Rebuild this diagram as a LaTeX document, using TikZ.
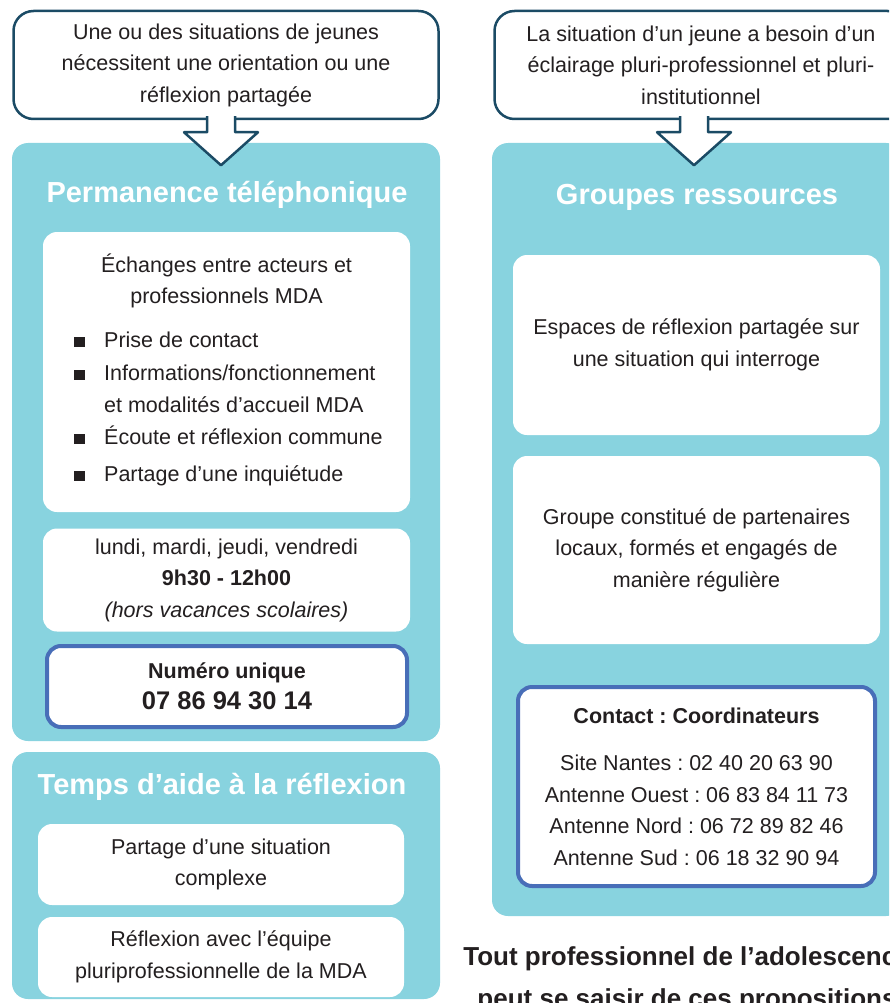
\documentclass[tikz,border=0pt]{standalone}
\usepackage{fontspec}
\setmainfont{Liberation Sans}
\usetikzlibrary{positioning}
\definecolor{mdacyan}{RGB}{136,211,223}
\definecolor{mdabord}{RGB}{27,75,101}
\definecolor{mdableu}{RGB}{72,110,184}
\definecolor{mdatexte}{RGB}{35,31,32}
\newcommand{\corps}{\fontsize{21.5}{31.5}\selectfont}
\newcommand{\puce}{\rule{11pt}{10pt}}
\frenchspacing

\begin{document}
\begin{tikzpicture}[x=1pt,y=-1pt,
    panneau/.style={fill=mdacyan,rounded corners=16pt,inner sep=0pt},
    boite/.style={fill=white,rounded corners=14pt,minimum width=367pt,align=center,text=mdatexte,font=\corps},
    cadre/.style={draw=mdableu,line width=4pt,fill=white,rounded corners=14pt,align=center,text=mdatexte,font=\corps},
    situation/.style={draw=mdabord,line width=2.5pt,fill=white,rounded corners=20pt,minimum height=108pt,align=center,text=mdatexte,font=\corps},
    titre/.style={text=white,font=\fontsize{29}{34}\selectfont\bfseries},
    texte/.style={text=mdatexte,align=center,font=\corps},
    fleche/.style={draw=mdabord,line width=2.5pt,fill=white,line join=round}]
  \useasboundingbox (0,0) rectangle (889,1003);
  \clip (0,0) rectangle (889,1003);

  % colonne gauche
  \node[panneau,minimum width=428pt,minimum height=598pt] (panPerm) at (226,442) {};
  \node[titre] (titrePerm) at (227,195) {Permanence téléphonique};
  \node[boite,minimum height=280pt] (echanges) at (226.5,372) {};
  \node[texte] (echangesTitre) at (226.5,281) {Échanges entre acteurs et\\professionnels MDA};
  \node[texte,align=left,anchor=west,inner sep=0pt] (echangesListe) at (74,408) {%
    \begin{tabular}{@{}p{30pt}@{}l@{}}
      \puce & Prise de contact\\[1.5pt]
      \puce & Informations/fonctionnement\\[0.5pt]
            & et modalités d’accueil MDA\\[0.5pt]
      \puce & Écoute et réflexion commune\\[5.5pt]
      \puce & Partage d’une inquiétude
    \end{tabular}};
  \node[boite,minimum height=103pt] (horaires) at (226.5,580) {lundi, mardi, jeudi, vendredi\\\textbf{9h30 - 12h00}\\\textit{(hors vacances scolaires)}};
  \node[cadre,minimum width=360pt,minimum height=81pt] (numero) at (227,686.5) {\textbf{Numéro unique}\\{\fontsize{25.5}{30}\selectfont\bfseries 07 86 94 30 14}};

  \node[panneau,minimum width=428pt,minimum height=247pt] (panTemps) at (226,875.5) {};
  \node[titre] (titreTemps) at (222,787) {Temps d’aide à la réflexion};
  \node[boite,minimum width=366pt,minimum height=81pt] (partage) at (221,864.5) {Partage d’une situation\\complexe};
  \node[boite,minimum width=366pt,minimum height=80pt] (reflexion) at (221,957) {Réflexion avec l’équipe\\pluriprofessionnelle de la MDA};

  % colonne droite
  \node[panneau,minimum width=410pt,minimum height=773pt] (panGroupes) at (697,529.5) {};
  \node[titre] (titreGroupes) at (697,197) {Groupes ressources};
  \node[boite,minimum height=180pt] (espaces) at (696.5,345) {Espaces de réflexion partagée sur\\une situation qui interroge};
  \node[boite,minimum height=188pt] (partenaires) at (696.5,550) {Groupe constitué de partenaires\\locaux, formés et engagés de\\manière régulière};
  \node[cadre,minimum width=357pt,minimum height=199pt] (contact) at (696.5,786.5) {\textbf{Contact : Coordinateurs}\\[16pt]Site Nantes : 02 40 20 63 90\\Antenne Ouest : 06 83 84 11 73\\Antenne Nord : 06 72 89 82 46\\Antenne Sud : 06 18 32 90 94};

  \node[texte,font=\fontsize{26}{42}\selectfont\bfseries] (toutPro) at (687,980) {Tout professionnel de l’adolescence\\peut se saisir de ces propositions};

  % situations et fleches
  \node[situation,minimum width=425pt] (sitGauche) at (226,65) {Une ou des situations de jeunes\\nécessitent une orientation ou une\\réflexion partagée};
  \node[situation,minimum width=413pt] (sitDroite) at (701,65) {La situation d’un jeune a besoin d’un\\éclairage pluri-professionnel et pluri-\\institutionnel};

  \begin{scope}[shift={(sitGauche.south)},xshift=-5pt]
    \draw[fleche] (-14,-4) -- (-14,12) -- (-37,12) -- (0,45) -- (37,12) -- (14,12) -- (14,-4);
  \end{scope}
  \begin{scope}[shift={(sitDroite.south)},xshift=-7pt]
    \draw[fleche] (-14,-4) -- (-14,12) -- (-37,12) -- (0,45) -- (37,12) -- (14,12) -- (14,-4);
  \end{scope}
\end{tikzpicture}
\end{document}
